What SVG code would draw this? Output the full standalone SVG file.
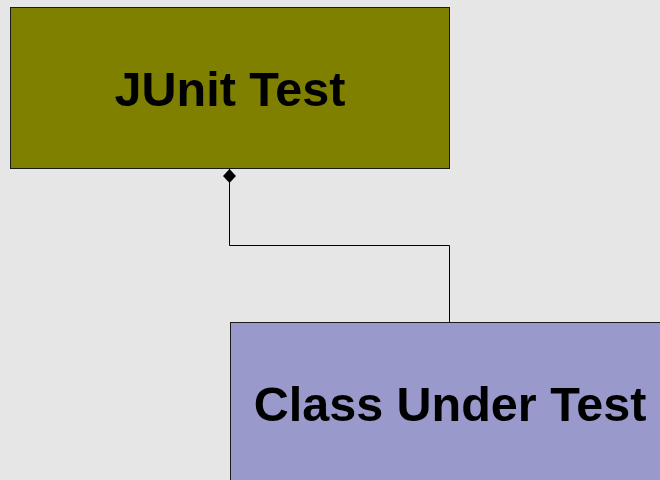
<svg xmlns="http://www.w3.org/2000/svg" width="660" height="480" viewBox="0 0 660 480">
  <style>
    .box { stroke: #1a1a1a; stroke-width: 1; }
    .label { font-family: "Liberation Sans", Arial, sans-serif; font-weight: bold; font-size: 48.5px; fill: #000; text-anchor: middle; }
    .conn { fill: none; stroke: #000; stroke-width: 1; }
  </style>
  <defs>
    <marker id="diamond" viewBox="0 0 16 16" refX="1" refY="8" markerWidth="16" markerHeight="16" markerUnits="userSpaceOnUse" orient="auto">
      <path d="M1,8 L8,1.5 L15,8 L8,14.5 Z" fill="#000"/>
    </marker>
  </defs>
  <rect width="660" height="480" fill="#e6e6e6"/>
  <g id="junit-test">
    <rect class="box" x="10.5" y="7.5" width="439" height="161" fill="#808000"/>
    <text class="label" x="230" y="106">JUnit Test</text>
  </g>
  <g id="class-under-test">
    <rect class="box" x="230.5" y="322.5" width="439" height="161" fill="#9999cc"/>
    <text class="label" x="450" y="421">Class Under Test</text>
  </g>
  <g id="connectors">
    <!-- composition: diamond sits against the bottom edge of the owner -->
    <path class="conn" d="M229.5,169 L229.5,245.5 L449.5,245.5 L449.5,322" marker-start="url(#diamond)"/>
  </g>
</svg>
